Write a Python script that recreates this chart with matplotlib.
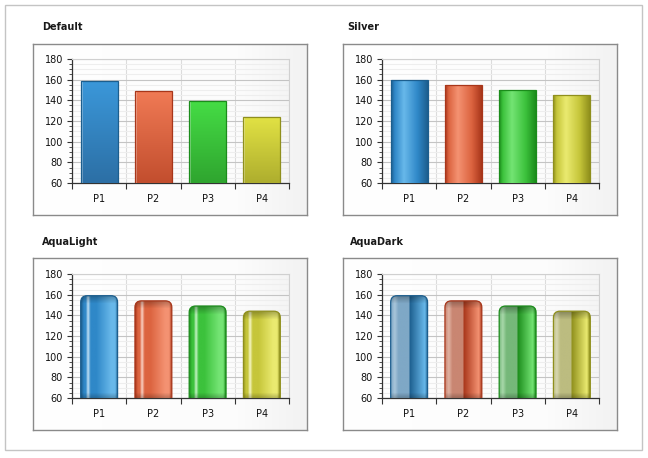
import numpy as np
import matplotlib.pyplot as plt
from matplotlib.colors import to_rgb
from matplotlib.patches import FancyBboxPatch, Rectangle

# données
categories = ['P1', 'P2', 'P3', 'P4']
default_vals = [159, 149, 139, 124]
silver_vals = [160, 155, 150, 145]
aqualight_vals = [159, 154, 149, 144]
aquadark_vals = [159, 154, 149, 144]
titles = ['Default', 'Silver', 'AquaLight', 'AquaDark']
y_ticks = [60, 80, 100, 120, 140, 160, 180]

# couleurs (style)
palettes = [
    dict(dark='#1c5e8e', mid='#2f88c8', light='#68b8ea', pale='#7fa8c6', pale2='#a9c6da',
         top='#3b98da', bot='#2c6fa5'),
    dict(dark='#a8361a', mid='#dc6440', light='#f49272', pale='#c98672', pale2='#e0b2a2',
         top='#f07a55', bot='#c24e2e'),
    dict(dark='#1b8c1b', mid='#3cc23c', light='#74e474', pale='#76b87a', pale2='#a8d8aa',
         top='#45dc45', bot='#2fa52f'),
    dict(dark='#8f8f1c', mid='#c6c63a', light='#eaea70', pale='#bcbc80', pale2='#d8d8b0',
         top='#e2e244', bot='#aeae2e'),
]

W, H = 648, 458
fig = plt.figure(figsize=(W / 100, H / 100), dpi=100)
fig.patch.set_facecolor('white')


def rect(x0, y0, x1, y1):
    return [x0 / W, 1 - y1 / H, (x1 - x0) / W, (y1 - y0) / H]


def ramp(stops, n):
    pos = [s[0] for s in stops]
    cols = np.array([to_rgb(s[1]) for s in stops])
    t = np.linspace(0, 1, n)
    return np.stack([np.interp(t, pos, cols[:, k]) for k in range(3)], axis=-1)


def mix(c, k):
    c = np.array(to_rgb(c))
    return tuple(c * (1 - k) + k)


def draw_panel(box, plot, title_xy, title, values, style):
    # fond du cadre
    pax = fig.add_axes(rect(*box), zorder=0)
    grad = ramp([(0, '#ffffff'), (0.75, '#fcfcfc'), (1, '#f2f2f2')], 256)[None, :, :]
    pax.imshow(grad, extent=[0, 1, 0, 1], aspect='auto')
    pax.set_xlim(0, 1)
    pax.set_ylim(0, 1)
    pax.set_xticks([])
    pax.set_yticks([])
    for s in pax.spines.values():
        s.set_color('#8a8a8a')
        s.set_linewidth(1)
    fig.text(title_xy[0] / W, 1 - title_xy[1] / H, title, fontsize=7,
             fontweight='bold', color='#1a1a1a', va='center', ha='left')

    ax = fig.add_axes(rect(*plot), zorder=1)
    ax.patch.set_alpha(0)
    ax.set_xlim(-0.5, len(categories) - 0.5)
    ax.set_ylim(y_ticks[0], y_ticks[-1])
    ymin = y_ticks[0]

    # grille
    ax.set_yticks(y_ticks)
    ax.set_yticks(np.arange(y_ticks[0], y_ticks[-1] + 1, 5), minor=True)
    bounds = np.arange(len(categories) + 1) - 0.5
    ax.set_xticks(bounds)
    ax.set_xticklabels([''] * len(bounds))
    ax.set_xticks(range(len(categories)), minor=True)
    ax.set_xticklabels(categories, minor=True)
    ax.grid(axis='y', which='major', color='#c4c4c4', lw=0.8, zorder=0)
    ax.grid(axis='y', which='minor', color='#eeeeee', lw=0.8, zorder=0)
    ax.grid(axis='x', which='major', color='#dcdcdc', lw=0.8, zorder=0)
    ax.set_axisbelow(True)

    ax.tick_params(axis='y', which='major', length=3.5, width=0.8, color='#333333',
                   labelsize=7, pad=3, labelcolor='#111111')
    ax.tick_params(axis='y', which='minor', length=2, width=0.6, color='#333333')
    ax.tick_params(axis='x', which='major', length=4, width=0.8, color='#333333')
    ax.tick_params(axis='x', which='minor', length=0, labelsize=7, pad=8,
                   labelcolor='#111111')
    for side in ['left', 'bottom']:
        ax.spines[side].set_color('#333333')
        ax.spines[side].set_linewidth(0.9)
    for side in ['top', 'right']:
        ax.spines[side].set_color('#d0d0d0')
        ax.spines[side].set_linewidth(0.8)

    bars = ax.bar(range(len(categories)), values, width=0.68, zorder=2)

    # échelles pixel / unité
    px_x = ax.transData.transform((1, 0))[0] - ax.transData.transform((0, 0))[0]
    px_y = ax.transData.transform((0, 1))[1] - ax.transData.transform((0, 0))[1]

    for i, b in enumerate(bars):
        p = palettes[i]
        x0, w, top = b.get_x(), b.get_width(), b.get_height()
        hpx = max(int((top - ymin) * px_y), 2)
        if style == 'default':
            img = ramp([(0, p['top']), (1, p['bot'])], hpx)[:, None, :]
            img = np.repeat(img, 40, axis=1)
            img[:, 0:2, :] = img[:, 0:2, :] * 0.6 + 0.4
            clip = b
            edge = p['dark']
        elif style == 'silver':
            img = ramp([(0, p['dark']), (0.1, p['mid']), (0.35, p['light']),
                        (0.72, p['mid']), (1, p['dark'])], 120)[None, :, :]
            clip = b
            edge = p['dark']
        else:
            if style == 'aqualight':
                row = ramp([(0, p['dark']), (0.08, p['mid']), (0.13, p['mid']),
                            (0.19, mix(p['light'], 0.6)), (0.26, p['mid']),
                            (0.42, p['mid']), (0.82, p['light']), (0.93, p['light']),
                            (1, p['dark'])], 160)
            else:
                row = ramp([(0, p['pale']), (0.1, p['pale2']), (0.2, p['pale']),
                            (0.5, p['pale']), (0.501, p['dark']), (0.92, p['light']),
                            (1, p['dark'])], 160)
            yy = np.arange(hpx)[:, None]
            shade = np.ones((hpx, 1))
            shade = np.where(yy < 8, 0.72 + 0.28 * yy / 8, shade)
            shade = np.where(yy > hpx - 6, 0.75 + 0.25 * (hpx - yy) / 6, shade)
            img = np.clip(row[None, :, :] * shade[:, :, None], 0, 1)
            r = 6.5 / px_x
            clip = FancyBboxPatch((x0, 0), w, top,
                                  boxstyle='round,pad=0,rounding_size=%f' % r,
                                  mutation_aspect=(6.5 / px_y) / r,
                                  fc='none', ec=p['dark'], lw=0.9, zorder=4)
            ax.add_patch(clip)
            b.set_visible(False)
            edge = p['dark']
        im = ax.imshow(img, extent=[x0, x0 + w, ymin, top], aspect='auto',
                       interpolation='bilinear', zorder=3)
        im.set_clip_path(clip)
        if clip is b:
            b.set_facecolor('none')
            b.set_edgecolor(edge)
            b.set_linewidth(0.9)
            b.set_zorder(4)

    ax.set_xlim(-0.5, len(categories) - 0.5)
    ax.set_ylim(y_ticks[0], y_ticks[-1])
    return ax


draw_panel((33, 44, 307, 215), (72, 59, 289, 183), (42, 27), titles[0], default_vals, 'default')
draw_panel((343, 44, 617, 215), (382, 59, 599, 183), (347, 27), titles[1], silver_vals, 'silver')
draw_panel((33, 258, 307, 430), (72, 274, 289, 398), (42, 242), titles[2], aqualight_vals, 'aqualight')
draw_panel((343, 258, 617, 430), (382, 274, 599, 398), (350, 242), titles[3], aquadark_vals, 'aquadark')

# cadre extérieur
fig.add_artist(Rectangle((5 / W, 1 - 450 / H), 637 / W, 445 / H, transform=fig.transFigure,
                         fill=False, ec='#c4c4c4', lw=1))

fig.savefig('out.png', dpi=100)
